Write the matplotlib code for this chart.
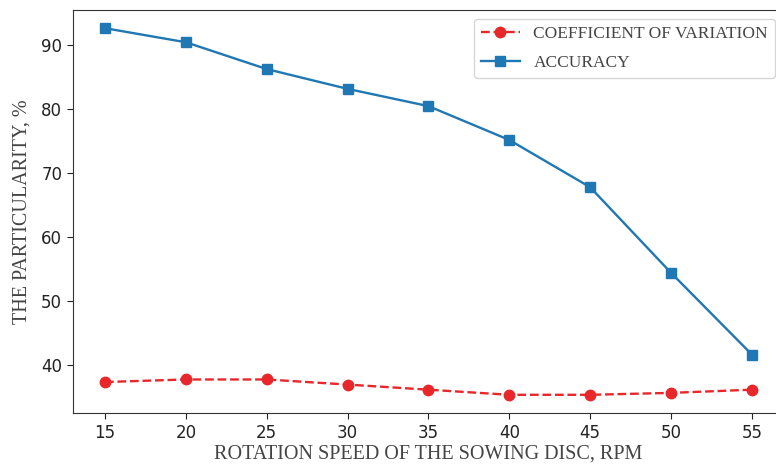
import matplotlib.pyplot as plt

speed = [15, 20, 25, 30, 35, 40, 45, 50, 55]
cv = [37.3, 37.7, 37.7, 36.9, 36.1, 35.3, 35.3, 35.6, 36.1]
accuracy = [92.7, 90.5, 86.3, 83.2, 80.5, 75.2, 67.8, 54.4, 41.6]

serif = ['Liberation Serif', 'DejaVu Serif']

fig = plt.figure(figsize=(7.76, 4.70), dpi=100)
# the source image is cropped on the right, so the axes run past the edge
ax = fig.add_axes([0.0936, 0.121, 0.917, 0.858])

ax.plot(speed, cv, '--o', color='#e8272b', lw=1.7, ms=7.5, label='COEFFICIENT OF VARIATION')
ax.plot(speed, accuracy, '-s', color='#1f77b4', lw=1.7, ms=7.5, label='ACCURACY')

ax.set_xticks(speed)
ax.tick_params(labelsize=12, colors='#222222', length=4)
for s in ax.spines.values():
    s.set_color('#333333')
ax.set_xlabel('ROTATION SPEED OF THE SOWING DISC, RPM', family=serif, fontsize=14.5,
              color='#444444', labelpad=2)
ax.set_ylabel('THE PARTICULARITY, %', family=serif, fontsize=14.5, color='#444444', labelpad=7)

leg = ax.legend(loc='upper right', bbox_to_anchor=(775 / 776, 1 - 19 / 470),
                bbox_transform=fig.transFigure, borderaxespad=0,
                prop={'family': serif, 'size': 12.5}, labelspacing=0.75, handlelength=2.2)
for t in leg.get_texts():
    t.set_color('#444444')

fig.savefig('out.png', dpi=100)
